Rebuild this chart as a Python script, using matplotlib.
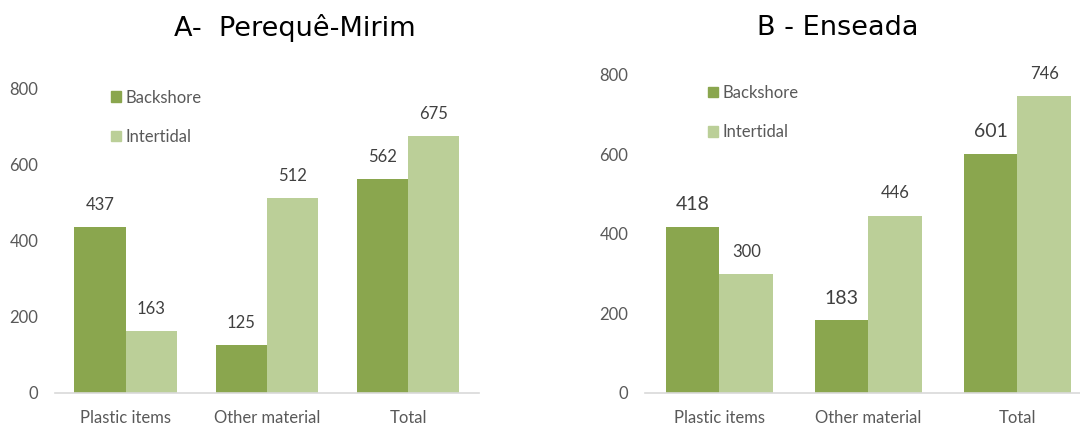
import numpy as np
import matplotlib.pyplot as plt
from matplotlib.patches import Patch

categories = ['Plastic items', 'Other material', 'Total']
series = ['Backshore', 'Intertidal']

a_backshore = [437, 125, 562]
a_intertidal = [163, 512, 675]
b_backshore = [418, 183, 601]
b_intertidal = [300, 446, 746]

dark = '#8AA64E'
light = '#BBCF98'
grey = '#595959'

plt.rcParams['font.family'] = ['Lato', 'DejaVu Sans']

fig = plt.figure(figsize=(10.8, 4.26), dpi=100)
ax1 = fig.add_axes([0.0509, 0.0775, 0.3926, 0.7136])
ax2 = fig.add_axes([0.5972, 0.0775, 0.4139, 0.7465])

x = np.arange(len(categories))
w = 0.362


def draw(ax, back, inter, back_fs, inter_fs, legend_anchor):
    b1 = ax.bar(x - w / 2, back, w, color=dark, label=series[0])
    b2 = ax.bar(x + w / 2, inter, w, color=light, label=series[1])
    for rect, v in zip(b1, back):
        ax.annotate(str(v), (rect.get_x() + rect.get_width() / 2, v),
                    xytext=(0, 16), textcoords='offset points',
                    ha='center', va='center', fontsize=back_fs, color='#404040')
    for rect, v in zip(b2, inter):
        ax.annotate(str(v), (rect.get_x() + rect.get_width() / 2, v),
                    xytext=(0, 16), textcoords='offset points',
                    ha='center', va='center', fontsize=inter_fs, color='#404040')
    ax.set_xlim(-0.5, 2.5)
    ax.set_ylim(0, 800)
    ax.set_yticks([0, 200, 400, 600, 800])
    ax.set_xticks(x)
    ax.set_xticklabels(categories)
    for s in ['top', 'right', 'left']:
        ax.spines[s].set_visible(False)
    ax.spines['bottom'].set_color('#D9D9D9')
    ax.spines['bottom'].set_linewidth(1.2)
    ax.tick_params(axis='both', length=0, labelsize=12, colors=grey)
    ax.tick_params(axis='y', pad=12)
    ax.tick_params(axis='x', pad=12)
    handles = [Patch(color=dark), Patch(color=light)]
    ax.legend(handles, series, loc='upper left', bbox_to_anchor=legend_anchor,
              frameon=False, fontsize=12, labelcolor=grey,
              handlelength=0.6, handleheight=0.6, handletextpad=0.3,
              labelspacing=1.4, borderaxespad=0)


draw(ax1, a_backshore, a_intertidal, 12, 12, (0.116, 1.02))
draw(ax2, b_backshore, b_intertidal, 14, 12, (0.126, 0.99))

fig.text(0.273, 0.935, 'A-  Perequê-Mirim', ha='center', va='center',
         fontsize=19.5, family='DejaVu Sans', color='black')
fig.text(0.776, 0.935, 'B - Enseada', ha='center', va='center',
         fontsize=19.5, family='DejaVu Sans', color='black')

fig.savefig('out.png', dpi=100)
